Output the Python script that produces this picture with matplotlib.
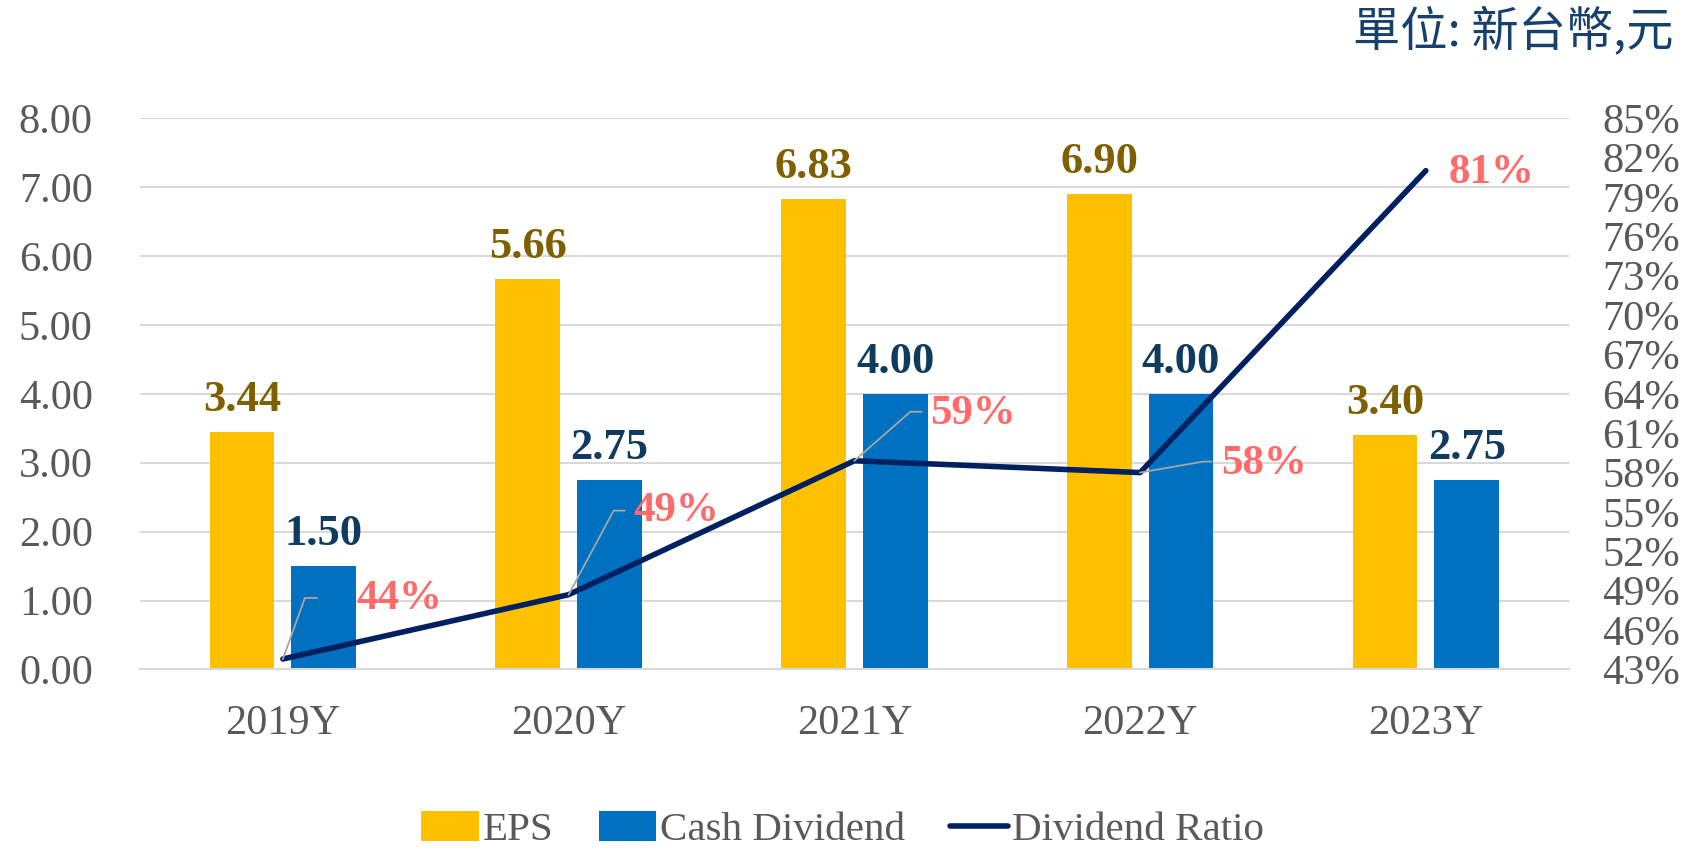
import numpy as np
import matplotlib
matplotlib.use("Agg")
import matplotlib.pyplot as plt

years = ["2019Y", "2020Y", "2021Y", "2022Y", "2023Y"]
eps = [3.44, 5.66, 6.83, 6.90, 3.40]
cash_div = [1.50, 2.75, 4.00, 4.00, 2.75]
div_ratio = [0.438, 0.487, 0.589, 0.580, 0.810]
ratio_labels = ["44%", "49%", "59%", "58%", "81%"]

# label placement (pixel offsets from the line point): elbow, leader end, text
label_offsets = [
    ((22, 61), (34, 61), (73, 60)),
    ((45, 84), (56, 84), (65, 84)),
    ((56, 49), (67, 49), (76, 47)),
    ((63, 11), (71, 11), (81, 9)),
    (None, None, (23, -2)),
]

serif = "Liberation Serif"
gray_txt = "#595959"
tick_size = 30.5

fig = plt.figure(figsize=(16.85, 8.56), dpi=100)
ax = fig.add_axes([0.0831, 0.2179, 0.931 - 0.0831, 0.862 - 0.2179])
ax2 = ax.twinx()

x = np.arange(len(years))
w = 0.226
off = 0.143
ax.bar(x - off, eps, w, color="#FFC000", label="EPS", zorder=2)
ax.bar(x + off, cash_div, w, color="#0070C0", label="Cash Dividend", zorder=2)

ax.set_xlim(-0.5, len(years) - 0.5)
ax.set_ylim(0, 8)
ax.set_yticks(np.arange(0, 9, 1))
ax.set_yticklabels([f"{v:.2f}" for v in np.arange(0, 9, 1)])
ax.set_xticks(x)
ax.set_xticklabels(years)
ax.grid(axis="y", color="#D9D9D9", linewidth=1.5, zorder=0)
ax.set_axisbelow(True)
for s in ["top", "right", "left"]:
    ax.spines[s].set_visible(False)
ax.spines["bottom"].set_color("#D9D9D9")
ax.spines["bottom"].set_linewidth(1.5)
ax.tick_params(axis="y", length=0, pad=34, labelsize=tick_size, labelcolor=gray_txt)
ax.tick_params(axis="x", length=0, pad=25, labelsize=tick_size, labelcolor=gray_txt)
for lab in ax.get_xticklabels() + ax.get_yticklabels():
    lab.set_fontfamily(serif)

for xi, v in zip(x, eps):
    ax.annotate(f"{v:.2f}", (xi - off, v), xytext=(0, 12), textcoords="offset pixels",
                ha="center", va="bottom", fontsize=32, fontweight="bold",
                color="#7F6000", family=serif)
for xi, v in zip(x, cash_div):
    ax.annotate(f"{v:.2f}", (xi + off, v), xytext=(0, 12), textcoords="offset pixels",
                ha="center", va="bottom", fontsize=32, fontweight="bold",
                color="#0E3B5E", family=serif)

ax2.plot(x, div_ratio, color="#002060", linewidth=4, label="Dividend Ratio",
         solid_capstyle="round", zorder=3)
ax2.set_ylim(0.43, 0.85)
rt = np.arange(43, 86, 3)
ax2.set_yticks(rt / 100)
ax2.set_yticklabels([f"{t}%" for t in rt])
for s in ["top", "right", "left", "bottom"]:
    ax2.spines[s].set_visible(False)
ax2.tick_params(axis="y", length=0, pad=24, labelsize=tick_size, labelcolor=gray_txt)
for lab in ax2.get_yticklabels():
    lab.set_fontfamily(serif)

inv = ax2.transData.inverted()
for xi, v, txt, (elb, end, toff) in zip(x, div_ratio, ratio_labels, label_offsets):
    px, py = ax2.transData.transform((xi, v))
    if elb is not None:
        pts = inv.transform([(px, py), (px + elb[0], py + elb[1]), (px + end[0], py + end[1])])
        ax2.plot(pts[:, 0], pts[:, 1], color="#A6A6A6", linewidth=1.3, zorder=4)
    ax2.annotate(txt, (xi, v), xytext=toff, textcoords="offset pixels",
                 ha="left", va="center", fontsize=31, fontweight="bold",
                 color="#FF6B6B", family=serif, zorder=5)

fig.text(0.993, 0.962, "單位: 新台幣,元", ha="right", va="center", fontsize=34,
         color="#17406D", family=["Noto Sans CJK TC", "DejaVu Sans"])

h1, l1 = ax.get_legend_handles_labels()
h2, l2 = ax2.get_legend_handles_labels()
leg = fig.legend(h1 + h2, l1 + l2, loc="center", bbox_to_anchor=(0.5, 0.03),
                 ncol=3, frameon=False, prop={"family": serif, "size": 29.5},
                 handlelength=1.4, handleheight=0.75, handletextpad=0.1,
                 columnspacing=1.1, borderpad=0.1)
for t in leg.get_texts():
    t.set_color(gray_txt)

fig.savefig("out.png", dpi=100)
